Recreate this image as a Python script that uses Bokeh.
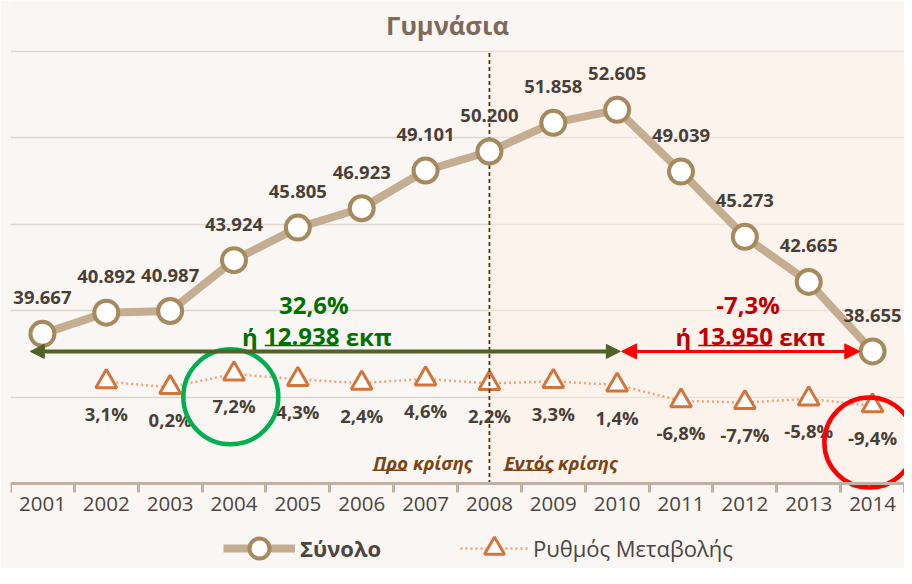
from bokeh.plotting import figure
from bokeh.models import (Range1d, FixedTicker, BoxAnnotation, Arrow, NormalHead,
                          Legend, LegendItem, ColumnDataSource)
from bokeh.core.properties import value
from bokeh.embed import file_html
from bokeh.resources import INLINE

# ---------------- data ----------------
years = [2001, 2002, 2003, 2004, 2005, 2006, 2007, 2008, 2009, 2010, 2011, 2012, 2013, 2014]
totals = [39667, 40892, 40987, 43924, 45805, 46923, 49101, 50200, 51858, 52605, 49039, 45273, 42665, 38655]
rate_years = [2002, 2003, 2004, 2005, 2006, 2007, 2008, 2009, 2010, 2011, 2012, 2013, 2014]
rates = [3.1, 0.2, 7.2, 4.3, 2.4, 4.6, 2.2, 3.3, 1.4, -6.8, -7.7, -5.8, -9.4]
year_labels = [str(y) for y in years]
grid_values = [36000, 41000, 46000, 51000, 56000]
axis_base = 31000

title_text = "Γυμνάσια"
pre_change_pct = "32,6%"
pre_change_abs = "12.938"
crisis_change_pct = "-7,3%"
crisis_change_abs = "13.950"
crisis_year = 2008
peak_year = 2010

FONT = value("Open Sans")
TXT = "#4a3f37"

def fmt_total(v):
    return f"{v:,}".replace(",", ".")

def fmt_rate(r):
    return f"{r:.1f}%".replace(".", ",")

src_tot = ColumnDataSource(dict(x=years, y=totals, lab=[fmt_total(v) for v in totals]))
src_rate = ColumnDataSource(dict(x=rate_years, y=rates, lab=[fmt_rate(r) for r in rates]))

# ---------------- geometry ----------------
W, H = 904, 568
LEFT = 10
TOP_GRID_PX = 50.6      # pixel row of the top gridline
AXIS_PX = 483.4         # pixel row of the category axis
UPP = (grid_values[-1] - axis_base) / (AXIS_PX - TOP_GRID_PX)
Y_MAX = grid_values[-1] + TOP_GRID_PX * UPP
Y_MIN = axis_base - (H - AXIS_PX) * UPP
ZERO_PX = 387.2         # pixel row of 0% on the rate axis
PCT_PX = 1.924          # pixels per percentage point
R_MAX = ZERO_PX / PCT_PX
R_MIN = -(H - ZERO_PX) / PCT_PX
PX_X = 14 / (W - LEFT)
PX_Y = UPP

p = figure(width=W, height=H, output_backend="svg", toolbar_location=None,
           x_range=Range1d(years[0] - 0.5, years[-1] + 0.5),
           y_range=Range1d(Y_MIN, Y_MAX),
           min_border_left=LEFT, min_border_right=0, min_border_top=0, min_border_bottom=0)
p.extra_y_ranges = {"rate": Range1d(R_MIN, R_MAX)}

p.background_fill_color = "#f9f6f3"
p.border_fill_color = "#f9f6f3"
p.outline_line_color = None

p.yaxis.visible = False
p.xgrid.visible = False
p.ygrid.ticker = FixedTicker(ticks=grid_values)
p.ygrid.grid_line_color = "#ddd6cf"
p.ygrid.grid_line_width = 1.5

ax = p.xaxis[0]
ax.fixed_location = axis_base
ax.ticker = FixedTicker(ticks=years, minor_ticks=[y - 0.5 for y in years] + [years[-1] + 0.5])
ax.major_label_overrides = {y: l for y, l in zip(years, year_labels)}
ax.axis_line_color = "#c0b1a2"
ax.axis_line_width = 3
ax.major_tick_line_color = None
ax.major_tick_out = 0
ax.major_tick_in = 0
ax.minor_tick_line_color = "#c0b1a2"
ax.minor_tick_line_width = 3
ax.minor_tick_out = 9
ax.minor_tick_in = 0
ax.major_label_text_font = "Open Sans"
ax.major_label_text_font_size = "20.5px"
ax.major_label_text_color = "#4d4540"
ax.major_label_standoff = 4

# crisis shading
p.add_layout(BoxAnnotation(left=crisis_year, bottom=axis_base, top=grid_values[-1],
                           fill_color="#fdefe6", fill_alpha=0.5, line_color=None, level="underlay"))

# title
p.text([(years[0] + years[-1]) / 2], [Y_MAX], text=[title_text], text_align="center",
       text_baseline="middle", x_offset=-10, y_offset=24, text_font=FONT, text_font_style="bold",
       text_font_size="25.5px", text_color="#7f6a59")

# rate series (secondary axis)
r_rate_line = p.line("x", "y", source=src_rate, y_range_name="rate", line_color="#f2a479",
                     line_width=2.5, line_dash="2 3")
r_rate_pts = p.scatter("x", "y", source=src_rate, y_range_name="rate", marker="triangle",
                       size=21, fill_color="white", line_color="#d2743c", line_width=3)
p.text("x", "y", text="lab", source=src_rate, y_range_name="rate", text_align="center",
       text_baseline="middle", y_offset=32, text_font=FONT, text_font_style="bold",
       text_font_size="18.5px", text_color=TXT)

# crisis divider
p.segment([crisis_year], [axis_base], [crisis_year], [grid_values[-1]], line_color="#5e3510",
          line_width=1.8, line_dash="4 3")

# totals
r_tot_line = p.line("x", "y", source=src_tot, line_color="#c4ad91", line_width=8)
r_tot_pts = p.scatter("x", "y", source=src_tot, marker="circle", size=24, fill_color="white",
                      line_color="#a68a5e", line_width=4)
p.text("x", "y", text="lab", source=src_tot, text_align="center", text_baseline="middle",
       y_offset=-36, text_font=FONT, text_font_style="bold", text_font_size="18.5px",
       text_color=TXT)

arrow_y = totals[-1]

# pre-crisis green arrow
green = "#4f6228"
p.add_layout(Arrow(x_start=years[0] - 0.19, y_start=arrow_y, x_end=peak_year + 0.05, y_end=arrow_y,
                   line_color=green, line_width=4,
                   start=NormalHead(size=14, fill_color=green, line_color=green),
                   end=NormalHead(size=14, fill_color=green, line_color=green)))
# crisis red arrow
red = "#ff0000"
p.add_layout(Arrow(x_start=peak_year + 0.07, y_start=arrow_y, x_end=years[-1] - 0.2, y_end=arrow_y,
                   line_color=red, line_width=3,
                   start=NormalHead(size=15, fill_color=red, line_color=red),
                   end=NormalHead(size=15, fill_color=red, line_color=red)))

NOTE_SIZE = "24px"

def change_note(xc_pct, xc_num, pct, num, color):
    p.text([xc_pct], [arrow_y], text=[pct], text_align="center", text_baseline="middle",
           y_offset=-47, text_font=FONT, text_font_style="bold", text_font_size=NOTE_SIZE,
           text_color=color)
    hw = 37
    p.text([xc_num], [arrow_y], text=[num], text_align="center", text_baseline="middle",
           y_offset=-15, text_font=FONT, text_font_style="bold", text_font_size=NOTE_SIZE,
           text_color=color)
    p.text([xc_num], [arrow_y], text=["ή"], text_align="right", text_baseline="middle",
           x_offset=-(hw + 7), y_offset=-15, text_font=FONT, text_font_style="bold",
           text_font_size=NOTE_SIZE, text_color=color)
    p.text([xc_num], [arrow_y], text=["εκπ"], text_align="left", text_baseline="middle",
           x_offset=hw + 7, y_offset=-15, text_font=FONT, text_font_style="bold",
           text_font_size=NOTE_SIZE, text_color=color)
    uy = arrow_y + 6 * PX_Y
    p.segment([xc_num - hw * PX_X], [uy], [xc_num + hw * PX_X], [uy], line_color=color,
              line_width=1.5)

change_note(2005.25, 2005.06, pre_change_pct, pre_change_abs, "#007000")
change_note(2012.05, 2011.85, crisis_change_pct, crisis_change_abs, "#c00000")

# Pro / Entos krisis labels
brown = "#7a4512"
lab_y = 32250
p.text([crisis_year], [lab_y], text=["Προ κρίσης"], text_align="right", text_baseline="middle",
       x_offset=-17, text_font=FONT, text_font_style="bold italic", text_font_size="18.5px",
       text_color=brown)
p.text([crisis_year], [lab_y], text=["Εντός κρίσης"], text_align="left", text_baseline="middle",
       x_offset=15, text_font=FONT, text_font_style="bold italic", text_font_size="18.5px",
       text_color=brown)
ul_y = lab_y - 8 * PX_Y
p.segment([crisis_year - 117 * PX_X, crisis_year + 14 * PX_X], [ul_y, ul_y],
          [crisis_year - 83 * PX_X, crisis_year + 64 * PX_X], [ul_y, ul_y],
          line_color=brown, line_width=1.5)

# highlight circles
p.scatter([2003.95], [-4.75], y_range_name="rate", marker="circle", size=95, fill_color=None,
          line_color="#00b050", line_width=4.5)
p.scatter([2013.95], [-28.5], y_range_name="rate", marker="circle", size=90, fill_color=None,
          line_color="#ff0000", line_width=4.5)

# legends (inside the frame, below the axis)
common = dict(orientation="horizontal", glyph_height=50, label_standoff=5, padding=0, margin=0,
              background_fill_alpha=0, border_line_color=None, label_text_font="Open Sans",
              label_text_font_size="22px", label_text_color="#4d4540")
leg1 = Legend(items=[LegendItem(label="Σύνολο", renderers=[r_tot_line, r_tot_pts])],
              location=(213, -5), glyph_width=72, label_text_font_style="bold", **common)
leg2 = Legend(items=[LegendItem(label="Ρυθμός Μεταβολής", renderers=[r_rate_line, r_rate_pts])],
              location=(450, -5), glyph_width=68, **common)
p.add_layout(leg1, "center")
p.add_layout(leg2, "center")

open("out.html", "w").write(file_html(p, INLINE))
